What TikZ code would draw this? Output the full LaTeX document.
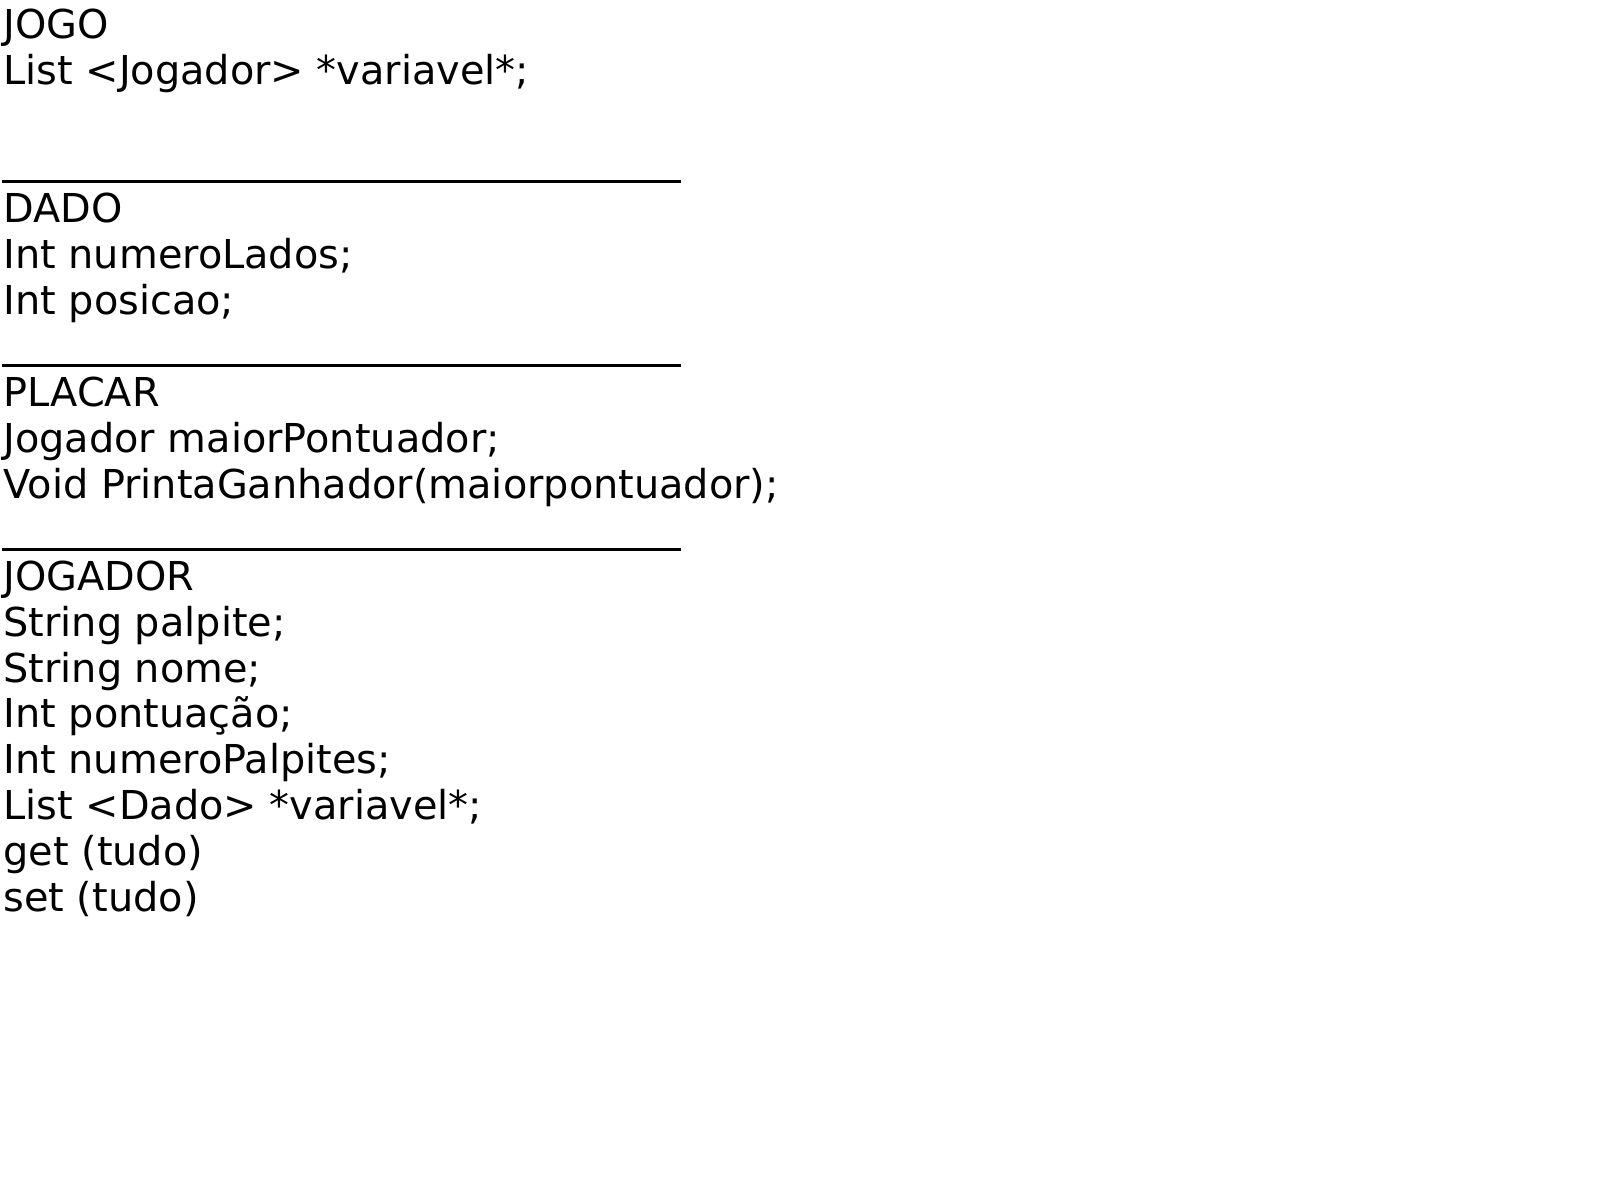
\documentclass[tikz,border=0pt]{standalone}
\usepackage{fontspec}
\setmainfont{DejaVu Sans}
\usepackage{tikz}
\usetikzlibrary{positioning}

\begin{document}
\begin{tikzpicture}[node distance=0.4597cm,
            row/.style={anchor=base west, inner sep=0pt, outer sep=0pt,
                        font=\fontsize{11.33pt}{13.5pt}\selectfont},
            rule/.style={line width=0.95pt}]

        \useasboundingbox (0,0) rectangle (16,-12);

        % JOGO
        \node[row]                                   (jogo)    at (0.035,-0.385) {JOGO};
        \node[below=of jogo.base west, row]          (jogoL)   {List <Jogador> *variavel*;};
        \draw[rule] (0.02,-1.816) -- (6.81,-1.816);

        % DADO
        \node[below=1.379cm of jogoL.base west, row] (dado)    {DADO};
        \node[below=of dado.base west, row]          (lados)   {Int numeroLados;};
        \node[below=of lados.base west, row]         (pos)     {Int posicao;};
        \draw[rule] (0.02,-3.653) -- (6.81,-3.653);

        % PLACAR
        \node[below=0.919cm of pos.base west, row]   (placar)  {PLACAR};
        \node[below=of placar.base west, row]        (maior)   {Jogador maiorPontuador;};
        \node[below=of maior.base west, row]         (printa)  {Void PrintaGanhador(maiorpontuador);};
        \draw[rule] (0.02,-5.492) -- (6.81,-5.492);

        % JOGADOR
        \node[below=0.919cm of printa.base west, row] (jogador) {JOGADOR};
        \node[below=of jogador.base west, row]       (palpite) {String palpite;};
        \node[below=of palpite.base west, row]       (nome)    {String nome;};
        \node[below=of nome.base west, row]          (pontos)  {Int pontuação;};
        \node[below=of pontos.base west, row]        (npalp)   {Int numeroPalpites;};
        \node[below=of npalp.base west, row]         (dadoL)   {List <Dado> *variavel*;};
        \node[below=of dadoL.base west, row]         (get)     {get (tudo)};
        \node[below=of get.base west, row]           (set)     {set (tudo)};

    \end{tikzpicture}
\end{document}
